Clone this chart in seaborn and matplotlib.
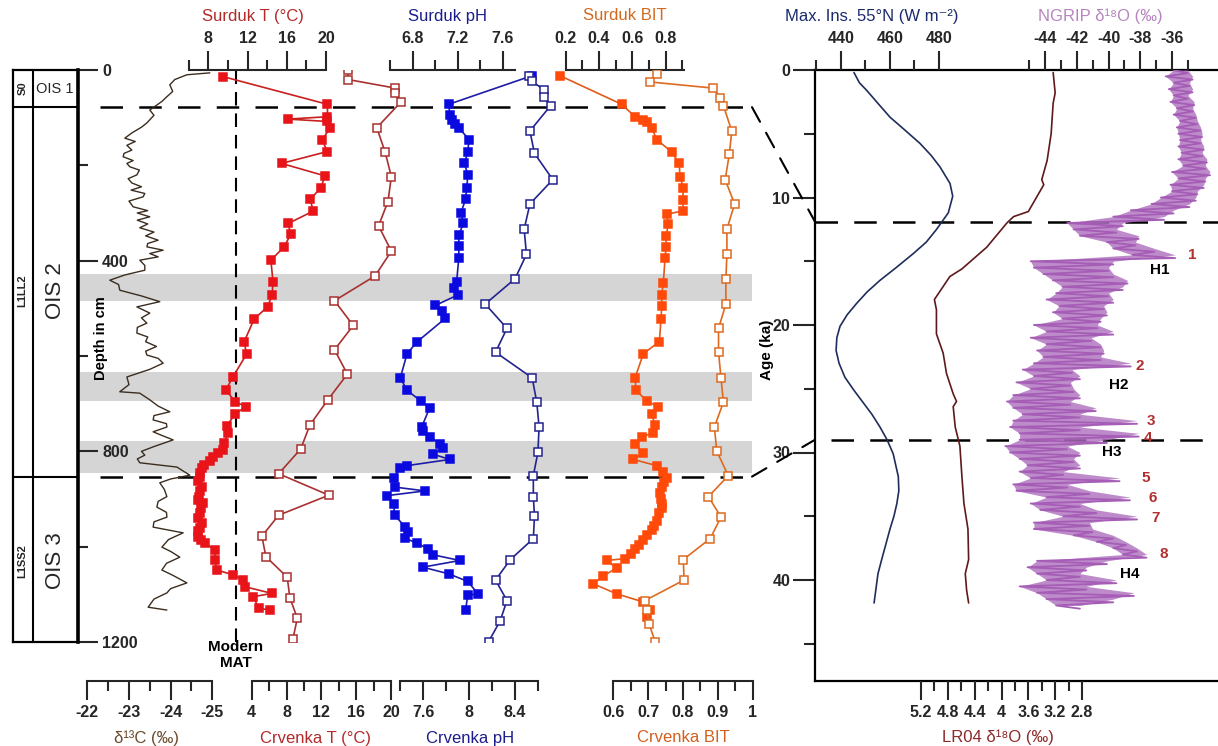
import numpy as np
import pandas as pd
import seaborn as sns
import matplotlib.pyplot as plt
from matplotlib.patches import ConnectionPatch

# ---------------- data ----------------
# delta13C (permil) against depth (cm)
d13c_depth = [6, 10, 20, 31, 45, 56, 66, 84, 95, 111, 120, 132, 143, 150, 158, 168, 175, 182, 190, 196,
              203, 210, 220, 228, 237, 245, 252, 259, 266, 275, 287, 295, 300, 308, 315, 323, 331, 340,
              348, 357, 364, 371, 378, 385, 392, 399, 410, 420, 430, 441, 450, 462, 474, 486, 497, 510,
              520, 531, 540, 552, 560, 570, 580, 590, 598, 605, 615, 628, 644, 660, 675, 678, 692, 705,
              717, 725, 734, 742, 749, 759, 767, 776, 790, 800, 808, 816, 824, 833, 850, 858, 866, 880,
              895, 905, 917, 928, 938, 948, 959, 971, 985, 1001, 1010, 1022, 1035, 1049, 1060, 1076,
              1088, 1097, 1110, 1127, 1133]
d13c = [-24.94, -24.39, -24.1, -23.98, -24.05, -23.91, -23.79, -23.5, -23.6, -23.43, -23.3, -23.07,
        -22.9, -23.15, -22.95, -23.07, -22.88, -22.86, -23.1, -22.95, -23.02, -23.25, -23.19, -22.98,
        -23.07, -23.3, -23.05, -23.38, -23.34, -23.0, -23.1, -23.45, -23.2, -23.5, -23.2, -23.45,
        -23.26, -23.6, -23.4, -23.7, -23.45, -23.43, -23.82, -23.5, -23.7, -23.26, -23.38, -23.38,
        -22.9, -22.54, -22.75, -22.78, -23.3, -23.74, -23.19, -23.5, -23.3, -23.43, -23.2, -23.19,
        -23.45, -23.4, -23.66, -23.4, -23.43, -23.7, -23.82, -23.5, -22.95, -23.0, -22.78, -23.26,
        -23.5, -23.7, -23.98, -23.6, -23.58, -23.9, -23.91, -23.58, -23.8, -24.06, -23.6, -23.3,
        -23.38, -23.2, -23.26, -24.15, -24.46, -24.0, -23.74, -23.85, -23.91, -23.7, -23.67, -23.9,
        -23.91, -23.6, -23.58, -24.3, -23.95, -23.79, -24.0, -24.22, -23.9, -23.79, -24.05, -24.39,
        -24.0, -23.91, -23.6, -23.46, -23.91]

# Surduk temperature (filled squares)
surduk_t_depth = [14, 72, 98, 103, 108, 122, 147, 171, 196, 222, 247, 271, 296, 322, 345, 371, 399,
                  445, 473, 497, 522, 570, 596, 645, 671, 696, 706, 722, 747, 762, 783, 797, 804, 812,
                  820, 828, 836, 845, 853, 862, 874, 884, 895, 902, 909, 918, 930, 940, 951, 960, 968,
                  979, 986, 993, 1007, 1028, 1049, 1059, 1070, 1084, 1098, 1105, 1129, 1133]
surduk_t = [9.53, 20.15, 20.15, 16.14, 20.15, 20.4, 19.6, 20.15, 15.47, 19.87, 19.5, 18.38, 18.7, 16.14,
            16.4, 15.73, 14.38, 14.6, 14.5, 14.04, 12.68, 11.66, 11.9, 10.48, 9.8, 10.72, 11.84, 10.72,
            9.87, 10.03, 9.6, 9.53, 9.02, 8.5, 8.2, 7.6, 7.32, 7.2, 7.15, 7.0, 7.32, 7.2, 7.1, 7.0, 7.44,
            7.3, 7.15, 7.0, 7.32, 7.2, 7.0, 6.98, 7.3, 7.66, 8.68, 8.68, 8.85, 10.55, 11.57, 11.74,
            14.48, 12.6, 13.12, 14.3]

# Crvenka temperature (open squares)
crvenka_t_depth = [1, 20, 38, 49, 68, 121, 173, 224, 276, 327, 380, 432, 484, 536, 587, 638, 692, 745,
                   795, 847, 892, 934, 978, 1021, 1064, 1107, 1150, 1194]
crvenka_t = [15.07, 15.07, 20.5, 20.43, 21.1, 18.37, 19.34, 20.04, 19.65, 18.57, 20.04, 18.17, 13.51,
             15.66, 13.51, 14.99, 12.74, 10.68, 9.63, 7.1, 12.86, 7.1, 5.17, 5.63, 8.08, 8.38, 9.24, 8.73]

# Surduk pH (filled squares)
surduk_ph_depth = [12, 72, 94, 105, 113, 121, 146, 172, 196, 220, 248, 271, 299, 322, 346, 370, 394, 445,
                   457, 472, 494, 506, 521, 570, 595, 646, 672, 694, 709, 749, 757, 769, 784, 792, 806,
                   817, 830, 836, 855, 875, 883, 893, 911, 934, 958, 970, 982, 993, 1005, 1017, 1029,
                   1043, 1057, 1073, 1099, 1102, 1132]
surduk_ph = [7.86, 7.12, 7.13, 7.15, 7.18, 7.21, 7.30, 7.29, 7.26, 7.29, 7.28, 7.27, 7.23, 7.25, 7.21,
             7.21, 7.21, 7.19, 7.17, 7.20, 7.00, 7.06, 7.09, 6.84, 6.75, 6.69, 6.75, 6.87, 6.95, 6.88,
             6.89, 6.95, 7.04, 7.07, 6.98, 7.13, 6.75, 6.69, 6.63, 6.64, 6.91, 6.57, 6.63, 6.64, 6.73,
             6.76, 6.73, 6.84, 6.94, 6.98, 7.22, 6.89, 7.12, 7.29, 7.38, 7.29, 7.27]

# Crvenka pH (open squares)
crvenka_ph_depth = [12, 24, 41, 56, 75, 128, 175, 230, 281, 334, 387, 438, 491, 542, 592, 646, 697, 749,
                    802, 851, 895, 936, 983, 1027, 1070, 1113, 1156, 1199]
crvenka_ph = [8.52, 8.55, 8.65, 8.65, 8.71, 8.53, 8.57, 8.73, 8.53, 8.48, 8.50, 8.40, 8.14, 8.33, 8.23,
              8.55, 8.59, 8.61, 8.60, 8.56, 8.56, 8.57, 8.56, 8.36, 8.23, 8.33, 8.27, 8.17]

# Surduk BIT (filled squares)
surduk_bit_depth = [12, 72, 98, 104, 109, 121, 146, 172, 196, 224, 248, 273, 295, 303, 324, 348, 372, 395,
                    446, 472, 496, 522, 570, 595, 646, 672, 694, 707, 721, 745, 761, 770, 784, 804, 817,
                    830, 843, 855, 865, 875, 887, 900, 910, 919, 930, 946, 956, 966, 976, 986, 996, 1005,
                    1015, 1025, 1029, 1045, 1061, 1078, 1099, 1116, 1132, 1147]
surduk_bit = [0.166, 0.536, 0.616, 0.666, 0.686, 0.716, 0.746, 0.836, 0.881, 0.886, 0.906, 0.902, 0.906,
              0.806, 0.816, 0.802, 0.802, 0.796, 0.786, 0.776, 0.776, 0.772, 0.762, 0.666, 0.616, 0.622,
              0.686, 0.756, 0.716, 0.736, 0.726, 0.656, 0.616, 0.662, 0.606, 0.746, 0.786, 0.806, 0.79,
              0.78, 0.766, 0.77, 0.78, 0.776, 0.76, 0.746, 0.73, 0.716, 0.69, 0.666, 0.64, 0.616, 0.59,
              0.556, 0.446, 0.506, 0.426, 0.366, 0.506, 0.666, 0.706, 0.686]

# Crvenka BIT (open squares)
crvenka_bit_depth = [9, 25, 38, 58, 75, 128, 176, 230, 281, 334, 387, 438, 491, 542, 592, 646, 697, 749,
                     800, 851, 895, 938, 983, 1027, 1070, 1113, 1132, 1163, 1199]
crvenka_bit = [0.725, 0.705, 0.887, 0.907, 0.916, 0.94, 0.933, 0.921, 0.948, 0.926, 0.926, 0.923, 0.923,
               0.902, 0.902, 0.909, 0.916, 0.89, 0.897, 0.93, 0.873, 0.909, 0.878, 0.801, 0.803, 0.691,
               0.696, 0.703, 0.72]

modern_mat = 10.8
bands = [(429, 484), (634, 694), (778, 845)]       # grey bands, depth cm
tie_depth = [78, 853]                                # OIS boundaries, depth cm
tie_age = [11.9, 29.0]                               # same boundaries, age ka

# insolation 55N (W m-2) and LR04 d18O against age (ka)
ins_age = [0.2, 1.0, 1.6, 2.6, 3.7, 4.7, 5.75, 6.7, 7.6, 8.9, 9.9, 11.2, 12.5, 13.5, 14.4, 15.5, 16.5,
           17.4, 18.3, 19.2, 20.1, 21.0, 22.0, 23.0, 24.1, 25.1, 26.1, 27.0, 28.0, 29.0, 30.1, 31.9,
           33.0, 34.0, 35.0, 36.0, 37.2, 38.4, 39.5, 41.8]
ins = [445.3, 447.5, 450.5, 455.0, 460.0, 466.0, 472.2, 476.8, 480.4, 484.5, 485.6, 483.8, 479.0, 474.8,
       469.5, 462.5, 455.9, 450.7, 446.4, 442.5, 439.6, 438.3, 438.0, 439.2, 441.6, 445.2, 449.1, 452.6,
       455.9, 458.8, 461.3, 463.4, 463.6, 462.8, 461.6, 460.0, 458.3, 456.6, 455.1, 453.5]
lr04_age = [0.2, 1.8, 2.6, 5.0, 7.1, 8.6, 9.0, 11.1, 11.5, 12.0, 13.9, 15.6, 16.2, 18.0, 18.8, 20.7,
            22.2, 23.8, 25.4, 26.0, 26.4, 28.0, 29.5, 31.9, 34.0, 36.0, 38.4, 39.5, 40.8, 41.8]
lr04 = [3.23, 3.20, 3.23, 3.26, 3.32, 3.40, 3.37, 3.60, 3.82, 3.92, 4.22, 4.59, 4.77, 5.00, 4.97, 4.97,
        4.87, 4.82, 4.72, 4.67, 4.72, 4.69, 4.62, 4.59, 4.56, 4.50, 4.49, 4.54, 4.52, 4.49]

# NGRIP d18O: low / high of the record in each 0.5 ka step, 0-42 ka
ngrip_age = np.arange(0, 42.01, 0.5)
ngrip_lo = [-35.9, -36.4, -35.9, -36.2, -35.9, -36.1, -35.7, -35.9, -35.5, -35.7, -35.6, -35.5, -35.6,
            -35.4, -35.6, -35.3, -36.0, -35.6, -36.1, -36.0, -36.7, -37.3, -38.6, -39.7, -42.6, -42.2,
            -41.8, -40.1, -39.7, -38.5, -44.9, -44.7, -44.1, -43.5, -42.9, -43.3, -43.9, -43.1, -43.5,
            -42.9, -44.7, -43.9, -44.9, -43.9, -44.5, -44.1, -44.7, -45.4, -44.7, -45.8, -44.9, -46.0,
            -46.4, -46.0, -45.4, -46.0, -46.2, -45.6, -45.6, -46.5, -46.2, -45.6, -45.1, -45.6, -44.9,
            -46.0, -45.8, -43.9, -44.9, -44.3, -42.85, -44.7, -44.7, -42.2, -40.75, -39.7, -39.1, -44.5,
            -45.1, -44.5, -43.9, -45.6, -44.5, -43.9, -43.3]
ngrip_hi = [-35.0, -34.7, -34.9, -34.7, -35.0, -34.6, -34.7, -34.5, -34.4, -34.2, -34.1, -34.2, -34.0,
            -34.1, -33.8, -33.9, -33.6, -33.9, -34.0, -34.4, -34.5, -34.9, -35.9, -36.5, -39.1, -39.5,
            -38.1, -38.3, -37.1, -35.8, -39.7, -40.0, -39.7, -38.8, -39.1, -40.0, -39.7, -40.3, -40.1,
            -40.5, -40.7, -39.7, -41.1, -40.5, -40.3, -40.5, -38.6, -42.3, -41.8, -42.4, -42.2, -41.8,
            -42.4, -40.8, -41.8, -38.2, -41.8, -38.1, -40.1, -42.6, -41.8, -42.2, -41.8, -42.85, -39.3,
            -42.6, -41.2, -38.65, -41.8, -40.75, -38.2, -41.2, -41.0, -39.7, -38.9, -38.2, -37.6, -40.1,
            -41.4, -41.8, -39.5, -41.4, -38.4, -39.7, -41.8]

# event labels on the NGRIP curve: text, d18O, age
ngrip_labels = [("1", -35.0, 14.5, "#b03030"), ("H1", -37.4, 15.7, "k"), ("2", -38.3, 23.2, "#b03030"),
                ("H2", -40.0, 24.7, "k"), ("3", -37.6, 27.5, "#b03030"), ("4", -37.8, 28.9, "#b03030"),
                ("H3", -40.4, 30.0, "k"), ("5", -37.9, 32.0, "#b03030"), ("6", -37.5, 33.6, "#b03030"),
                ("7", -37.3, 35.1, "#b03030"), ("8", -36.8, 38.0, "#b03030"), ("H4", -39.3, 39.5, "k")]

# ---------------- figure ----------------
sns.set_style("white")
plt.rcParams['font.family'] = ['Liberation Sans', 'DejaVu Sans']
plt.rcParams['axes.unicode_minus'] = False

W, H = 1218, 746
fig = plt.figure(figsize=(W / 100, H / 100), dpi=100)
PT = 0.72  # points per pixel
TICK_FS = 11.5
DASH = (0, (9, 6.5))


def rect(x0, y0, x1, y1):
    return [x0 / W, 1 - y1 / H, (x1 - x0) / W, (y1 - y0) / H]


def span(p0, v0, p1, v1, a, b):
    # value range of an axes spanning pixels a..b so that v0 sits at p0 and v1 at p1
    k = (v1 - v0) / (p1 - p0)
    return v0 + (a - p0) * k, v0 + (b - p0) * k


def blank(box):
    ax = fig.add_axes(rect(*box))
    ax.patch.set_visible(False)
    for s in ax.spines.values():
        s.set_visible(False)
    ax.set_xticks([])
    ax.set_yticks([])
    return ax


def scale(ax, side, major, minor, bounds=None, offset=0):
    # spine position first: moving a spine rebuilds the ticks
    if bounds:
        sp = ax.spines[side]
        sp.set_visible(True)
        sp.set_bounds(*bounds)
        sp.set_linewidth(1.5)
        if offset:
            sp.set_position(('outward', offset * PT))
    ax.xaxis.set_ticks_position(side)
    ax.set_xticks(major, labels=[f'{v:g}' for v in major], fontsize=TICK_FS, fontweight='bold')
    ax.set_xticks(minor, minor=True)
    ax.tick_params(axis='x', which='major', length=19 * PT, width=1.5, pad=3.5, direction='out')
    ax.tick_params(axis='x', which='minor', length=10 * PT, width=1.5, direction='out')


def profile(ax, depth, vals, line, mark, face, ms=6.3, lw=1.2):
    df = pd.DataFrame({'v': vals, 'd': depth})
    kw = dict(marker='s', markersize=ms, markerfacecolor=face, markeredgecolor=mark, markeredgewidth=1.1) if mark else {}
    sns.lineplot(data=df, x='v', y='d', sort=False, estimator=None, ax=ax, color=line, lw=lw, **kw)
    ax.set_xlabel('')
    ax.set_ylabel('')


# ---- left panel: depth profiles ----
LBOX = (80, 70, 760, 642)
DEPTH = (1200, 0)

base = blank(LBOX)
base.set_ylim(*DEPTH)
band_end = (752 - 80) / (760 - 80)
for d0, d1 in bands:
    base.axhspan(d0, d1, xmin=0, xmax=band_end, color='#d5d5d5', lw=0, zorder=0)
for d in tie_depth:
    base.axhline(d, xmin=(100 - 80) / 680, xmax=band_end, color='k', lw=1.8, ls=DASH)

series = [
    # depth, values, line, marker edge, face, pixel anchors (p0, v0, p1, v1)
    (d13c_depth, d13c, '#3b2d1f', None, None, (87.3, -22, 212.3, -25)),
    (surduk_t_depth, surduk_t, '#c8201e', '#e8141a', '#e8141a', (208.3, 8, 326, 20)),
    (crvenka_t_depth, crvenka_t, '#a83030', '#a83030', 'white', (251.7, 4, 391, 20)),
    (surduk_ph_depth, surduk_ph, '#1c1ca8', '#0a0ae0', '#0a0ae0', (412.7, 6.8, 502.7, 7.6)),
    (crvenka_ph_depth, crvenka_ph, '#23238f', '#23238f', 'white', (423.3, 7.6, 515, 8.4)),
    (surduk_bit_depth, surduk_bit, '#e05a1a', '#ff4a0a', '#ff4a0a', (565.7, 0.2, 665.7, 0.8)),
    (crvenka_bit_depth, crvenka_bit, '#de6a20', '#de6a20', 'white', (613.3, 0.6, 752.7, 1.0)),
]
axes = []
for dep, val, line, mark, face, anchors in series:
    ax = blank(LBOX)
    profile(ax, dep, val, line, mark, face, lw=1.0 if mark is None else 1.2)
    ax.set_xlim(*span(*anchors, LBOX[0], LBOX[2]))
    ax.set_ylim(*DEPTH)
    axes.append(ax)
ax_c, ax_st, ax_ct, ax_sp, ax_cp, ax_sb, ax_cb = axes

ax_st.axvline(modern_mat, color='k', lw=1.5, ls=(0, (6.5, 3.8)), zorder=1)

scale(ax_c, 'bottom', [-22, -23, -24, -25], [-22.5, -23.5, -24.5], (-22, -25), 39)
scale(ax_st, 'top', [8, 12, 16, 20], [6, 10, 14, 18], (6, 20))
scale(ax_ct, 'bottom', [4, 8, 12, 16, 20], [6, 10, 14, 18], (4, 20), 39)
scale(ax_sp, 'top', [6.8, 7.2, 7.6], [6.6, 7.0, 7.4], (6.6, 7.71))
scale(ax_cp, 'bottom', [7.6, 8.0, 8.4], [7.4, 7.8, 8.2, 8.6], (7.4, 8.6), 39)
scale(ax_sb, 'top', [0.2, 0.4, 0.6, 0.8], [0.3, 0.5, 0.7, 0.9], (0.2, 0.91))
scale(ax_cb, 'bottom', [0.6, 0.7, 0.8, 0.9, 1.0], [0.65, 0.75, 0.85, 0.95], (0.6, 1.0), 39)

# stratigraphy column + depth scale
ax_s = fig.add_axes(rect(13, 70, 78, 642))
ax_s.set_xlim(0, 1)
ax_s.set_ylim(*DEPTH)
for name, s in ax_s.spines.items():
    s.set_visible(True)
    s.set_color('k')
    s.set_linewidth(2.6 if name == 'right' else 1.6)
ax_s.axvline(0.3, color='k', lw=1.5)
for d in tie_depth:
    ax_s.axhline(d, color='k', lw=1.5)
ax_s.set_xticks([])
ax_s.yaxis.tick_right()
ax_s.set_yticks([0, 400, 800, 1200], labels=['0', '400', '800', '1200'], fontsize=TICK_FS, fontweight='bold')
ax_s.set_yticks([200, 600, 1000], minor=True)
ax_s.tick_params(axis='y', which='major', length=20 * PT, width=1.5, pad=3, direction='out')
ax_s.tick_params(axis='y', which='minor', length=10 * PT, width=1.5, direction='out')
ax_s.text(0.15, 39, 'S0', rotation=90, ha='center', va='center', fontsize=8, fontweight='bold')
ax_s.text(0.65, 39, 'OIS 1', ha='center', va='center', fontsize=10.5)
ax_s.text(0.15, 462, 'L1LL2', rotation=90, ha='center', va='center', fontsize=8, fontweight='bold')
ax_s.text(0.65, 462, 'OIS 2', rotation=90, ha='center', va='center', fontsize=16)
ax_s.text(0.15, 1030, 'L1SS2', rotation=90, ha='center', va='center', fontsize=8, fontweight='bold')
ax_s.text(0.65, 1030, 'OIS 3', rotation=90, ha='center', va='center', fontsize=16)

# ---- right panel: age ----
RBOX = (815, 70, 1218, 681)
AGE = ((681 - 70) / 12.75, 0)

ax_r = fig.add_axes(rect(*RBOX))
ax_r.set_ylim(*AGE)
ax_r.patch.set_visible(False)
ax_r.spines['right'].set_visible(False)
for name in ('left', 'top', 'bottom'):
    ax_r.spines[name].set_linewidth(1.6)
    ax_r.spines[name].set_color('k')
ax_r.set_xticks([])
ax_r.set_yticks([0, 10, 20, 30, 40], labels=['0', '10', '20', '30', '40'], fontsize=TICK_FS, fontweight='bold')
ax_r.set_yticks([5, 15, 25, 35, 45], minor=True)
ax_r.tick_params(axis='y', which='major', length=22 * PT, width=1.5, pad=2, direction='out', left=True)
ax_r.tick_params(axis='y', which='minor', length=11 * PT, width=1.5, direction='out', left=True)
ax_r.axhline(tie_age[0], color='k', lw=1.8, ls=DASH)
ax_r.axhline(tie_age[1], xmin=0.04, color='k', lw=1.8, ls=DASH)

ax_i = blank(RBOX)
profile(ax_i, ins_age, ins, '#1f2d5c', None, None, lw=1.2)
ax_i.set_xlim(*span(841, 440, 939, 480, RBOX[0], RBOX[2]))
ax_i.set_ylim(*AGE)
ax_i.set_yticks([])
scale(ax_i, 'top', [440, 460, 480], [430, 450, 470])

ax_l = blank(RBOX)
profile(ax_l, lr04_age, lr04, '#5e1a1a', None, None, lw=1.2)
ax_l.set_xlim(*span(921, 5.2, 1082, 2.8, RBOX[0], RBOX[2]))
ax_l.set_ylim(*AGE)
ax_l.set_yticks([])
scale(ax_l, 'bottom', [5.2, 4.8, 4.4, 4.0, 3.6, 3.2, 2.8], [5.0, 4.6, 4.2, 3.8, 3.4, 3.0])

# NGRIP: envelope shading plus a dense zig-zag between low and high values
zz_age = np.ravel(np.column_stack([ngrip_age, ngrip_age + 0.25]))
zz_val = np.ravel(np.column_stack([ngrip_lo, ngrip_hi]))
ax_n = blank(RBOX)
ax_n.fill_betweenx(ngrip_age, ngrip_lo, ngrip_hi, color='#ad6ebd', alpha=0.8, lw=0)
profile(ax_n, zz_age, zz_val, '#a55db6', None, None, lw=1.3)
ax_n.set_xlim(*span(1045, -44, 1172, -36, RBOX[0], RBOX[2]))
ax_n.set_ylim(*AGE)
ax_n.set_yticks([])
scale(ax_n, 'top', [-44, -42, -40, -38, -36], [-45, -43, -41, -39, -37, -35])
for txt, v, a, c in ngrip_labels:
    ax_n.text(v, a, txt, color=c, fontsize=11, fontweight='bold', ha='left', va='center')

# tie lines between depth and age
for d, a in zip(tie_depth, tie_age):
    con = ConnectionPatch(xyA=(band_end, d), coordsA=base.get_yaxis_transform(),
                          xyB=(0, a), coordsB=ax_r.get_yaxis_transform(),
                          color='k', lw=1.5, ls=(0, (8, 6)))
    fig.add_artist(con)


# ---- titles ----
def label(x, y, s, color, size=12, **kw):
    fig.text(x / W, 1 - y / H, s, color=color, ha='center', va='center', fontsize=size, **kw)


label(253, 16, 'Surduk T (°C)', '#b22a2a')
label(448, 16, 'Surduk pH', '#1c1c8c')
label(625, 16, 'Surduk BIT', '#d2691e')
label(872, 16, 'Max. Ins. 55°N (W m⁻²)', '#1a2a6a')
label(1100, 16, 'NGRIP δ¹⁸O (‰)', '#b784c0')
label(147, 738, 'δ¹³C (‰)', '#6b4a2a')
label(315, 738, 'Crvenka T (°C)', '#b22a2a')
label(470, 738, 'Crvenka pH', '#1c1c8c')
label(683, 738, 'Crvenka BIT', '#d2601e')
label(998, 737, 'LR04 δ¹⁸O (‰)', '#8b2a2a')
label(236, 655, 'Modern\nMAT', 'k', size=11, fontweight='bold', linespacing=1.1)
label(101, 338, 'Depth in cm', 'k', size=10.5, fontweight='bold', rotation=90)
label(767, 350, 'Age (ka)', 'k', size=11, fontweight='bold', rotation=90)

fig.savefig('out.png', dpi=100)
